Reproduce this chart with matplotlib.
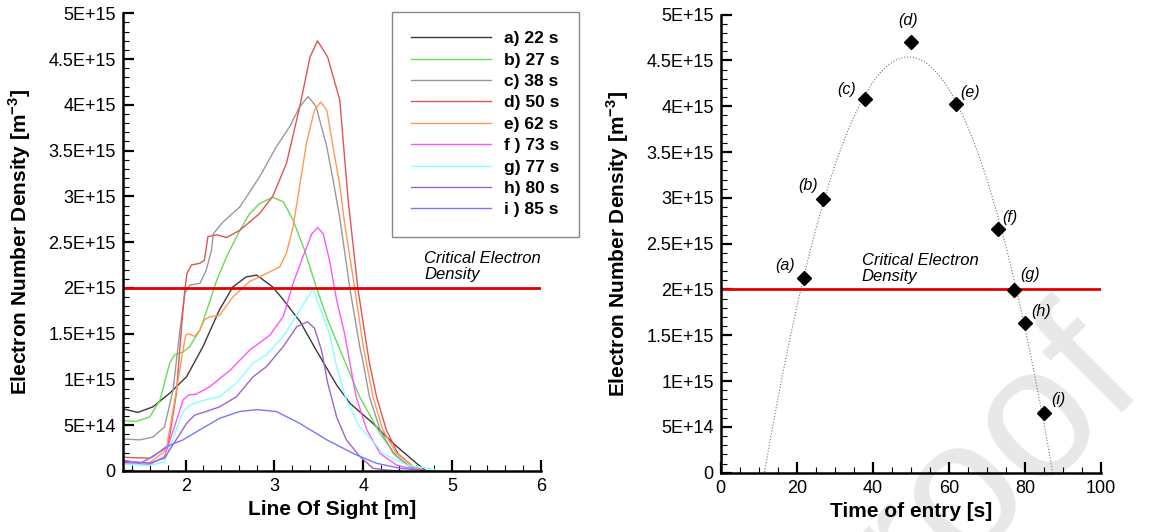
import numpy as np
import matplotlib
matplotlib.use('Agg')
import matplotlib.pyplot as plt
from matplotlib.ticker import MultipleLocator, FixedLocator, FixedFormatter

plt.rcParams['font.family'] = ['Liberation Sans', 'DejaVu Sans']
plt.rcParams['mathtext.fontset'] = 'custom'
plt.rcParams['mathtext.rm'] = 'Liberation Sans'
plt.rcParams['mathtext.bf'] = 'Liberation Sans:bold'

# ---- left panel: density profiles along the line of sight (y in 1E15 m^-3) ----
a_x = [1.29, 1.46, 1.63, 1.82, 2.01, 2.195, 2.38, 2.53, 2.68, 2.80, 2.98, 3.10, 3.29, 3.47, 3.70, 3.85,
       4.11, 4.34, 4.60, 4.71]
a_y = [0.68, 0.64, 0.70, 0.85, 1.03, 1.36, 1.76, 2.01, 2.12, 2.14, 2.01, 1.87, 1.63, 1.32, 0.94, 0.74,
       0.52, 0.30, 0.084, 0.0]

b_x = [1.29, 1.44, 1.594, 1.71, 1.82, 1.876, 1.97, 2.045, 2.16, 2.25, 2.35, 2.46, 2.61, 2.72, 2.83, 2.98, 3.10,
       3.21, 3.34, 3.47, 3.60, 3.74, 3.96, 4.19, 4.375, 4.525, 4.62]
b_y = [0.55, 0.54, 0.59, 0.775, 1.18, 1.27, 1.30, 1.36, 1.54, 1.79, 2.085, 2.34, 2.63, 2.81, 2.92, 2.99, 2.94,
       2.74, 2.41, 2.01, 1.65, 1.32, 0.81, 0.41, 0.16, 0.05, 0.0]

c_x = [1.29, 1.48, 1.63, 1.76, 1.857, 1.93, 1.99, 2.045, 2.16, 2.23, 2.29, 2.31, 2.42, 2.61, 2.83, 3.02, 3.17,
       3.285, 3.38, 3.47, 3.51, 3.59, 3.66, 3.74, 3.85, 3.96, 4.0, 4.07, 4.19, 4.34, 4.52, 4.62]
c_y = [0.35, 0.34, 0.37, 0.48, 0.88, 1.50, 1.94, 2.03, 2.05, 2.19, 2.41, 2.59, 2.72, 2.885, 3.21, 3.54, 3.76,
       3.98, 4.09, 3.98, 3.83, 3.54, 3.18, 2.74, 1.99, 1.36, 1.18, 0.81, 0.45, 0.19, 0.05, 0.0]

d_x = [1.29, 1.594, 1.80, 1.895, 1.95, 1.99, 2.015, 2.064, 2.16, 2.21, 2.25, 2.35, 2.46, 2.61, 2.83, 2.98,
       3.135, 3.285, 3.40, 3.485, 3.60, 3.736, 3.83, 3.94, 4.04, 4.07, 4.15, 4.26, 4.39, 4.56, 4.70]
d_y = [0.15, 0.14, 0.265, 0.85, 1.54, 1.98, 2.16, 2.25, 2.27, 2.30, 2.56, 2.58, 2.55, 2.63, 2.81, 3.0,
       3.36, 3.98, 4.52, 4.70, 4.52, 4.05, 2.96, 1.99, 1.36, 1.18, 0.81, 0.45, 0.19, 0.05, 0.0]

e_x = [1.29, 1.594, 1.78, 1.895, 1.97, 2.0, 2.03, 2.10, 2.16, 2.21, 2.27, 2.38, 2.53, 2.72, 2.83, 3.06, 3.135,
       3.21, 3.27, 3.36, 3.45, 3.52, 3.59, 3.66, 3.74, 3.785, 3.905, 4.0, 4.11, 4.22, 4.375, 4.56, 4.66]
e_y = [0.10, 0.09, 0.23, 0.88, 1.32, 1.485, 1.50, 1.47, 1.54, 1.65, 1.685, 1.70, 1.90, 2.07, 2.12, 2.23, 2.38,
       2.67, 3.03, 3.58, 3.94, 4.03, 3.94, 3.54, 3.10, 2.74, 1.99, 1.36, 0.81, 0.45, 0.19, 0.05, 0.0]

f_x = [1.29, 1.594, 1.76, 1.91, 1.97, 2.03, 2.12, 2.27, 2.50, 2.72, 2.95, 3.10, 3.21, 3.32, 3.42, 3.485, 3.55,
       3.62, 3.70, 3.79, 3.85, 3.92, 4.04, 4.19, 4.375, 4.56, 4.66]
f_y = [0.084, 0.07, 0.156, 0.59, 0.775, 0.83, 0.84, 0.92, 1.10, 1.32, 1.485, 1.69, 2.05, 2.34, 2.59, 2.66, 2.59,
       2.30, 1.87, 1.50, 1.18, 0.81, 0.45, 0.19, 0.065, 0.02, 0.0]

g_x = [1.29, 1.594, 1.76, 1.97, 2.045, 2.16, 2.27, 2.38, 2.57, 2.76, 2.91, 3.10, 3.285, 3.435, 3.62, 3.70,
       3.81, 3.96, 4.15, 4.22, 4.49, 4.79, 4.86]
g_y = [0.077, 0.06, 0.10, 0.65, 0.72, 0.76, 0.79, 0.81, 0.96, 1.18, 1.27, 1.47, 1.76, 1.99, 1.50, 1.14,
       0.775, 0.48, 0.28, 0.19, 0.065, 0.02, 0.0]

h_x = [1.29, 1.594, 1.76, 2.01, 2.10, 2.23, 2.38, 2.57, 2.76, 2.91, 3.10, 3.25, 3.37, 3.45, 3.53, 3.60, 3.70,
       3.81, 3.96, 4.11, 4.22, 4.40]
h_y = [0.11, 0.084, 0.14, 0.52, 0.61, 0.65, 0.70, 0.81, 1.03, 1.14, 1.36, 1.575, 1.63, 1.56, 1.32, 0.96, 0.59,
       0.34, 0.16, 0.03, 0.015, 0.0]

i_x = [1.29, 1.48, 1.63, 1.78, 1.97, 2.16, 2.38, 2.61, 2.80, 3.02, 3.285, 3.59, 3.89, 4.15, 4.41, 4.75]
i_y = [0.12, 0.084, 0.156, 0.265, 0.34, 0.45, 0.575, 0.65, 0.67, 0.65, 0.52, 0.34, 0.19, 0.084, 0.03, 0.0]

profile_x = [a_x, b_x, c_x, d_x, e_x, f_x, g_x, h_x, i_x]
profile_y = [a_y, b_y, c_y, d_y, e_y, f_y, g_y, h_y, i_y]
profile_labels = ['a) 22 s', 'b) 27 s', 'c) 38 s', 'd) 50 s', 'e) 62 s',
                  'f ) 73 s', 'g) 77 s', 'h) 80 s', 'i ) 85 s']
profile_colors = ['#3a3a3a', '#66dd55', '#999999', '#e05555', '#ff9955',
                  '#ff55ff', '#88ffff', '#9966cc', '#7777ff']

# ---- right panel: peak density vs entry time ----
entry_time = [22, 27, 38, 50, 62, 73, 77, 80, 85]
peak_density = [2.12, 2.99, 4.08, 4.70, 4.025, 2.66, 1.99, 1.634, 0.655]
point_tags = ['(a)', '(b)', '(c)', '(d)', '(e)', '(f)', '(g)', '(h)', '(i)']
tag_offsets = [(-19, 13), (-15, 13), (-19, 9), (-3, 22), (14, 11), (12, 12), (17, 16), (16, 12), (14, 13)]

critical_density = 2.0
ytick_vals = [0, 0.5, 1, 1.5, 2, 2.5, 3, 3.5, 4, 4.5, 5]
ytick_labels = ['0', '5E+14', '1E+15', '1.5E+15', '2E+15', '2.5E+15', '3E+15',
                '3.5E+15', '4E+15', '4.5E+15', '5E+15']

E15 = 1e15

fig = plt.figure(figsize=(11.73, 5.32), dpi=100)
ax1 = fig.add_axes([0.1046, 0.1147, 0.3564, 0.8603])
ax2 = fig.add_axes([0.6144, 0.1115, 0.3242, 0.8609])

# watermark behind the axes
fig.text(0.975, 0.295, 'Pre-proof', fontsize=135, color='#e8e8e8', rotation=45,
         rotation_mode='anchor', ha='right', va='baseline', zorder=-1)


def style_axis(ax):
    ax.patch.set_alpha(0)
    for s in ['top', 'right']:
        ax.spines[s].set_visible(False)
    for s in ['left', 'bottom']:
        ax.spines[s].set_linewidth(1.8)
    ax.tick_params(which='major', direction='in', length=8, width=1.6, labelsize=13, pad=5)
    ax.tick_params(which='minor', direction='in', length=4.5, width=0.8)
    ax.tick_params(top=False, right=False)
    ax.set_ylim(0, 5 * E15)
    ax.yaxis.set_major_locator(FixedLocator([v * E15 for v in ytick_vals]))
    ax.yaxis.set_major_formatter(FixedFormatter(ytick_labels))
    ax.yaxis.set_minor_locator(MultipleLocator(0.1 * E15))
    ax.set_ylabel('Electron Number Density [m$^{\\mathbf{-3}}$]', fontsize=15, fontweight='bold', labelpad=11)


# left
style_axis(ax1)
for xs, ys, lab, col in zip(profile_x, profile_y, profile_labels, profile_colors):
    ax1.plot(xs, np.array(ys) * E15, color=col, lw=1.0, label=lab)
ax1.axhline(critical_density * E15, color='#e00000', lw=2)
ax1.text(4.69, 2.06 * E15, 'Critical Electron\nDensity', fontsize=12, style='italic', va='bottom', ha='left',
         linespacing=1.1)
ax1.set_xlim(1.29, 6)
ax1.xaxis.set_major_locator(FixedLocator([2, 3, 4, 5, 6]))
ax1.xaxis.set_minor_locator(MultipleLocator(0.2))
ax1.set_xlabel('Line Of Sight [m]', fontsize=15, fontweight='bold', labelpad=4)

leg = fig.legend(loc='upper left', bbox_to_anchor=(392 / 1173, 1 - 12 / 532),
                 prop={'weight': 'bold', 'size': 12.5}, handlelength=4.6, handletextpad=0.75,
                 labelspacing=0.36, borderpad=1.1, fancybox=False, framealpha=1, borderaxespad=0)
leg.get_frame().set_edgecolor('#888888')
leg.get_frame().set_linewidth(1.0)

# right
style_axis(ax2)
fit = np.polyfit(entry_time, peak_density, 2)
tt = np.linspace(0, 100, 400)
ax2.plot(tt, np.polyval(fit, tt) * E15, ls=':', color='#777777', lw=0.8)
ax2.axhline(critical_density * E15, color='#e00000', lw=2)
ax2.plot(entry_time, np.array(peak_density) * E15, 'D', color='black', ms=7.5, zorder=4)
for t, p, tag, off in zip(entry_time, peak_density, point_tags, tag_offsets):
    ax2.annotate(tag, (t, p * E15), xytext=off, textcoords='offset pixels', fontsize=11.5,
                 style='italic', ha='center', va='center')
ax2.text(37.1, 2.06 * E15, 'Critical Electron\nDensity', fontsize=12, style='italic', va='bottom', ha='left',
         linespacing=1.1)
ax2.set_xlim(0, 100)
ax2.xaxis.set_major_locator(MultipleLocator(20))
ax2.xaxis.set_minor_locator(MultipleLocator(5))
ax2.set_xlabel('Time of entry [s]', fontsize=15, fontweight='bold', labelpad=4)

fig.savefig('out.png', dpi=100)
